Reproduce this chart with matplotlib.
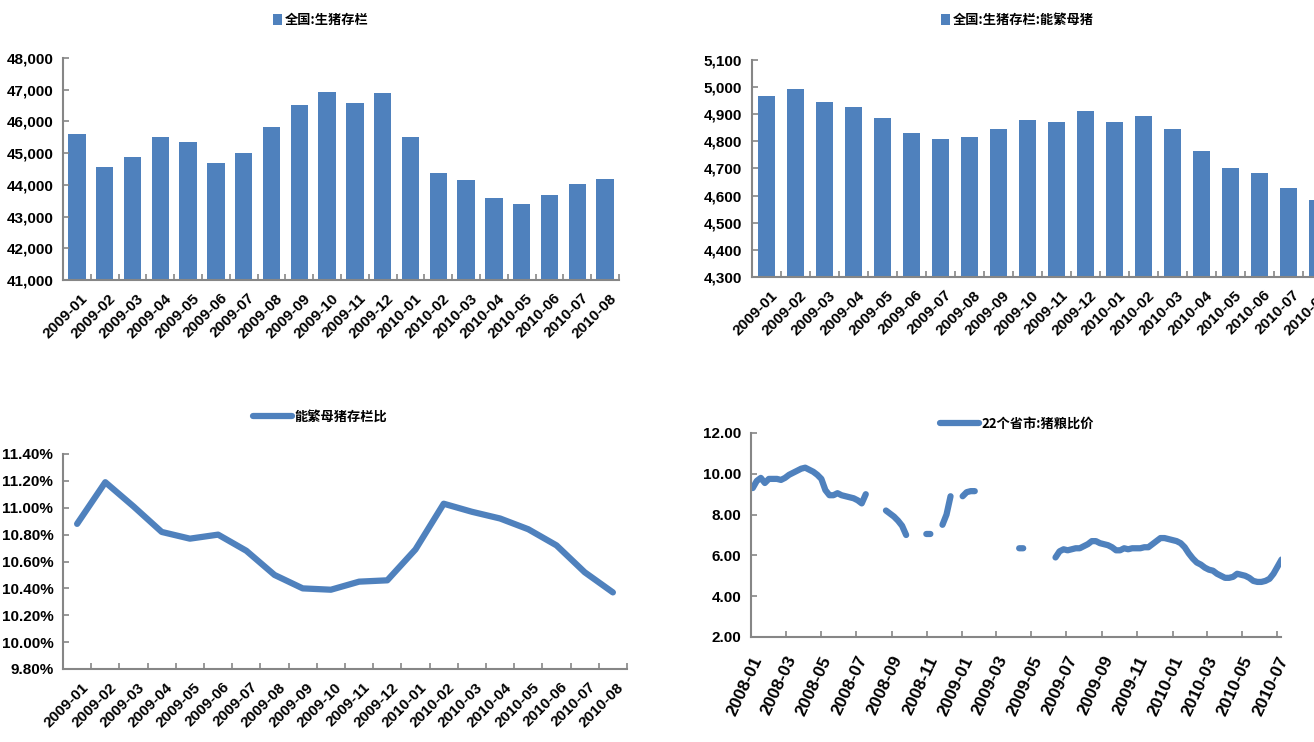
import numpy as np
import pandas as pd
import matplotlib
matplotlib.use("Agg")
import matplotlib.pyplot as plt
import matplotlib.dates as mdates
import matplotlib.ticker as mticker
import matplotlib.transforms as mtransforms

###
# Data
###

months = ["2009-01", "2009-02", "2009-03", "2009-04", "2009-05", "2009-06",
          "2009-07", "2009-08", "2009-09", "2009-10", "2009-11", "2009-12",
          "2010-01", "2010-02", "2010-03", "2010-04", "2010-05", "2010-06",
          "2010-07", "2010-08"]

# 全国:生猪存栏 (万头)
hog_stock = [45600, 44570, 44870, 45520, 45340, 44700, 45020, 45840, 46520, 46930,
             46580, 46890, 45520, 44370, 44140, 43590, 43400, 43680, 44030, 44200]

# 全国:生猪存栏:能繁母猪 (万头)
sow_stock = [4968, 4992, 4946, 4926, 4886, 4830, 4808, 4815, 4845, 4877,
             4872, 4913, 4872, 4892, 4845, 4765, 4702, 4685, 4628, 4585]

# 能繁母猪存栏比 (%)
sow_ratio = [10.88, 11.19, 11.01, 10.82, 10.77, 10.80, 10.68, 10.50, 10.40, 10.39,
             10.45, 10.46, 10.69, 11.03, 10.97, 10.92, 10.84, 10.72, 10.52, 10.37]

# 22个省市:猪粮比价, weekly from 2008-01-04, nan = no data
nan = np.nan
hog_grain = [9.3, 9.65, 9.8, 9.55, 9.75, 9.75, 9.75, 9.7, 9.8, 9.95,
             10.05, 10.15, 10.25, 10.3, 10.2, 10.1, 9.95, 9.75, 9.2, 8.95,
             8.95, 9.05, 8.95, 8.9, 8.85, 8.8, 8.7, 8.55, 9.0,
             nan, nan, nan, nan,
             8.2, 8.05, 7.9, 7.7, 7.45, 7.0,
             nan, nan, nan, nan,
             7.05, 7.05,
             nan, nan,
             7.5, 8.0, 8.9,
             nan, nan,
             8.9, 9.1, 9.15, 9.15,
             nan, nan, nan, nan, nan, nan, nan, nan, nan, nan,
             6.35, 6.35,
             nan, nan, nan, nan, nan, nan, nan,
             5.9, 6.2, 6.3, 6.25, 6.3, 6.35, 6.35, 6.45, 6.55, 6.7,
             6.7, 6.6, 6.55, 6.5, 6.4, 6.25, 6.25, 6.35, 6.3, 6.35,
             6.35, 6.35, 6.4, 6.4, 6.55, 6.7, 6.85, 6.85, 6.8, 6.75,
             6.7, 6.6, 6.4, 6.1, 5.85, 5.65, 5.55, 5.4, 5.3, 5.25,
             5.1, 5.0, 4.9, 4.9, 4.95, 5.1, 5.05, 5.0, 4.9, 4.75,
             4.7, 4.7, 4.75, 4.85, 5.1, 5.45, 5.8]
hog_grain_dates = pd.date_range("2008-01-04", periods=len(hog_grain), freq="7D")

###
# Style
###

W, H = 1314, 742
BLUE = "#4F81BD"
GREY = "#868686"
plt.rcParams["font.family"] = ["Liberation Sans Narrow", "Liberation Sans", "DejaVu Sans"]
plt.rcParams["font.weight"] = "bold"
CJK = {"family": ["Noto Sans CJK SC", "DejaVu Sans"], "weight": "bold", "size": 9.5}

fig = plt.figure(figsize=(W / 100, H / 100), dpi=100)


def make_axes(l, r, t, b):
    # pixel box -> figure fraction
    return fig.add_axes([l / W, 1 - b / H, (r - l) / W, (b - t) / H])


def style(ax):
    for s in ["top", "right"]:
        ax.spines[s].set_visible(False)
    for s in ["left", "bottom"]:
        ax.spines[s].set_color(GREY)
        ax.spines[s].set_linewidth(1.5)
    ax.tick_params(axis="y", direction="in", length=4, width=1.2, color=GREY,
                   labelsize=11, pad=7)
    for lab in ax.get_yticklabels():
        lab.set_fontweight("bold")


def shift(labels, dx, dy):
    # nudge tick labels by some pixels
    off = mtransforms.ScaledTranslation(dx / 100, dy / 100, fig.dpi_scale_trans)
    for lab in labels:
        lab.set_transform(lab.get_transform() + off)


def category_axis(ax, labels):
    n = len(labels)
    ax.set_xlim(-0.5, n - 0.5)
    ax.set_xticks(range(n))
    ax.set_xticklabels(labels, rotation=45, ha="right", va="top",
                       rotation_mode="anchor", fontsize=11, fontweight="bold")
    ax.tick_params(axis="x", which="major", length=0, pad=8)
    ax.set_xticks(np.arange(-0.5, n), minor=True)
    ax.tick_params(axis="x", which="minor", direction="in", length=4, width=1.2, color=GREY)
    shift(ax.get_xticklabels(), 4, 0)


def put_legend(ax, cx, cy, **kw):
    leg = ax.legend(loc="center", bbox_to_anchor=(cx / W, 1 - cy / H),
                    bbox_transform=fig.transFigure, frameon=False, prop=CJK,
                    handletextpad=0.2, borderpad=0, **kw)
    return leg


x = np.arange(len(months))

# top left: hog stock
ax1 = make_axes(63, 619, 58, 280)
ax1.bar(x, hog_stock, width=0.62, color=BLUE, label="全国:生猪存栏")
ax1.set_ylim(41000, 48000)
ax1.yaxis.set_major_locator(mticker.MultipleLocator(1000))
ax1.yaxis.set_major_formatter(mticker.FuncFormatter(lambda v, p: f"{v:,.0f}"))
category_axis(ax1, months)
style(ax1)
put_legend(ax1, 321, 20, handlelength=0.7, handleheight=0.9)

# top right: breeding sows (axis runs past the right edge, as in the source)
ax2 = make_axes(752, 1332, 60, 277)
ax2.bar(x, sow_stock, width=0.6, color=BLUE, label="全国:生猪存栏:能繁母猪")
ax2.set_ylim(4300, 5100)
ax2.yaxis.set_major_locator(mticker.MultipleLocator(100))
ax2.yaxis.set_major_formatter(mticker.FuncFormatter(lambda v, p: f"{v:,.0f}"))
category_axis(ax2, months)
style(ax2)
put_legend(ax2, 1017, 20, handlelength=0.7, handleheight=0.9)

# bottom left: sow ratio
ax3 = make_axes(63, 627, 454, 669)
ax3.plot(x, sow_ratio, color=BLUE, lw=4.5, solid_capstyle="round",
         solid_joinstyle="round", label="能繁母猪存栏比")
ax3.set_ylim(9.8, 11.4)
ax3.yaxis.set_major_locator(mticker.MultipleLocator(0.2))
ax3.yaxis.set_major_formatter(mticker.FuncFormatter(lambda v, p: f"{v:.2f}%"))
category_axis(ax3, months)
style(ax3)
put_legend(ax3, 320, 417, handlelength=3.0)

# bottom right: hog / grain price ratio
ax4 = make_axes(751, 1281, 433, 637)
ax4.plot(hog_grain_dates, hog_grain, color=BLUE, lw=4.5, solid_capstyle="round",
         solid_joinstyle="round", label="22个省市:猪粮比价")
ax4.set_ylim(2, 12)
ax4.yaxis.set_major_locator(mticker.MultipleLocator(2))
ax4.yaxis.set_major_formatter(mticker.FuncFormatter(lambda v, p: f"{v:.2f}"))
ax4.set_xlim(pd.Timestamp("2008-01-01"), pd.Timestamp("2010-07-08"))
ax4.xaxis.set_major_locator(mdates.MonthLocator(bymonth=[1, 3, 5, 7, 9, 11]))
ax4.xaxis.set_major_formatter(mdates.DateFormatter("%Y-%m"))
ax4.tick_params(axis="x", direction="in", length=4, width=1.2, color=GREY, pad=12)
for lab in ax4.get_xticklabels():
    lab.set_rotation(65)
    lab.set_ha("right")
    lab.set_va("top")
    lab.set_rotation_mode("anchor")
    lab.set_fontsize(12.5)
    lab.set_fontweight("bold")
style(ax4)
put_legend(ax4, 1017, 424, handlelength=3.0)

fig.savefig("out.png", dpi=100)
